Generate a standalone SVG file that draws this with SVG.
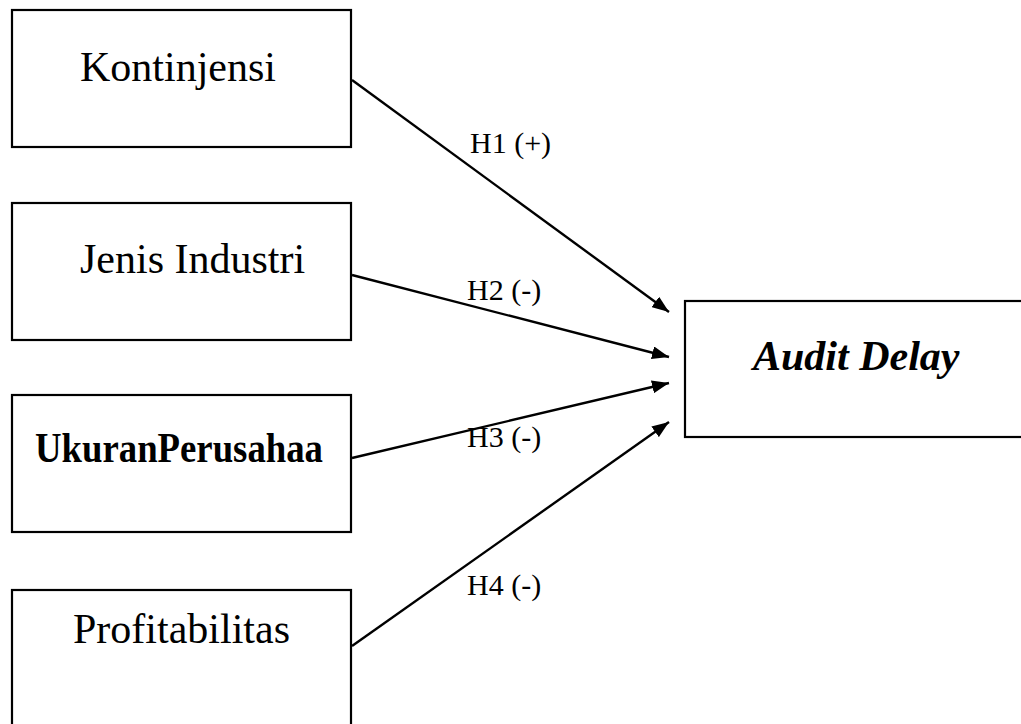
<svg xmlns="http://www.w3.org/2000/svg" width="1021" height="724" viewBox="0 0 1021 724">
<style>
.box{fill:#fff;stroke:#000;stroke-width:2.2}
.t{font-family:"Liberation Serif","Times New Roman",serif;font-size:42px;fill:#000}
.b{font-weight:bold}
.bi{font-weight:bold;font-style:italic}
.lbl{font-family:"Liberation Serif","Times New Roman",serif;font-size:30px;fill:#000}
.c{stroke:#000;stroke-width:2.4;fill:none;marker-end:url(#ah)}
</style>
<defs>
<marker id="ah" markerUnits="userSpaceOnUse" markerWidth="18" markerHeight="13" refX="17" refY="6.5" orient="auto">
<path d="M0,0 L17,6.5 L0,13 Z" fill="#000"/>
</marker>
</defs>
<rect width="1021" height="724" fill="#fff"/>
<g id="kontinjensi">
<rect class="box" x="12" y="10" width="339" height="137"/>
<text class="t" x="80" y="81">Kontinjensi</text>
</g>
<g id="jenis-industri">
<rect class="box" x="12" y="203" width="339" height="137"/>
<text class="t" x="80" y="273">Jenis Industri</text>
</g>
<g id="ukuran-perusahaan">
<rect class="box" x="12" y="395" width="339" height="137"/>
<text class="t b" x="35" y="462" font-size="37" textLength="288" lengthAdjust="spacingAndGlyphs">UkuranPerusahaa</text>
</g>
<g id="profitabilitas">
<rect class="box" x="12" y="590" width="339" height="150"/>
<text class="t" x="73" y="643">Profitabilitas</text>
</g>
<g id="audit-delay">
<rect class="box" x="685" y="301" width="345" height="136"/>
<text class="t bi" x="753" y="370">Audit Delay</text>
</g>
<g id="connectors">
<line class="c" x1="352" y1="80" x2="669" y2="312"/>
<line class="c" x1="352" y1="275" x2="669" y2="357"/>
<line class="c" x1="352" y1="458" x2="669" y2="383"/>
<line class="c" x1="352" y1="646" x2="669" y2="422"/>
</g>
<g id="labels">
<text class="lbl" x="470" y="153">H1 (+)</text>
<text class="lbl" x="467" y="300">H2 (-)</text>
<text class="lbl" x="467" y="447">H3 (-)</text>
<text class="lbl" x="467" y="595">H4 (-)</text>
</g>
</svg>
